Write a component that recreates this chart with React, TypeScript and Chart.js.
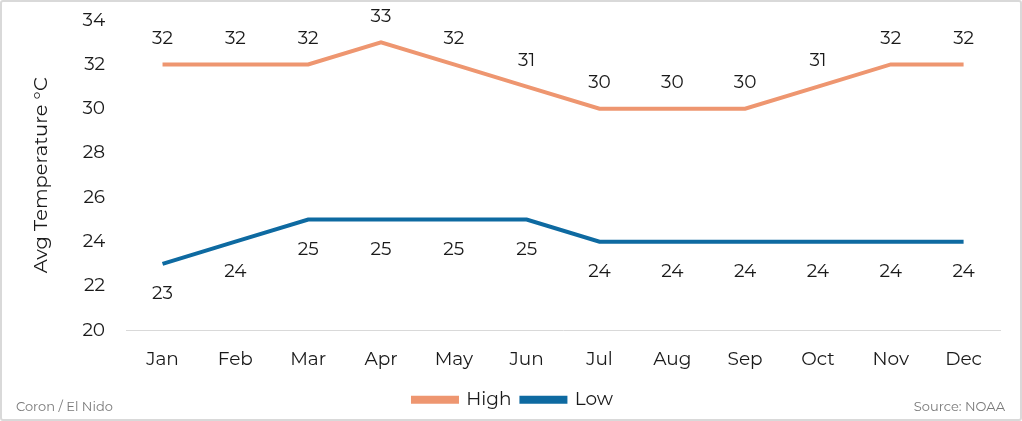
import React, { useEffect, useRef } from "react";
import { Chart, registerables } from "chart.js";
Chart.register(...registerables);

const months = ["Jan", "Feb", "Mar", "Apr", "May", "Jun", "Jul", "Aug", "Sep", "Oct", "Nov", "Dec"];
const highTemps = [32, 32, 32, 33, 32, 31, 30, 30, 30, 31, 32, 32];
const lowTemps = [23, 24, 25, 25, 25, 25, 24, 24, 24, 24, 24, 24];
const yTitle = "Avg Temperature °C";
const leftNote = "Coron / El Nido";
const sourceNote = "Source: NOAA";

const FONT = "Montserrat, 'Open Sans', 'Noto Sans', sans-serif";
const HIGH_COLOR = "#EE9670";
const LOW_COLOR = "#0E6AA1";
const FS = 18.5;

const labelPlugin = {
  id: "pointLabels",
  afterDatasetsDraw(chart: any) {
    const ctx = chart.ctx;
    ctx.save();
    ctx.font = `${FS}px ${FONT}`;
    ctx.fillStyle = "#1a1a1a";
    ctx.textAlign = "center";
    ctx.textBaseline = "middle";
    chart.data.datasets.forEach((ds: any, i: number) => {
      const meta = chart.getDatasetMeta(i);
      meta.data.forEach((pt: any, j: number) => {
        const off = i === 0 ? -26 : 30;
        ctx.fillText(String(ds.data[j]), pt.x, pt.y + off);
      });
    });
    ctx.restore();
  },
};

export default function App() {
  const ref = useRef<HTMLCanvasElement>(null);
  useEffect(() => {
    document.body.style.margin = "0";
    const chart = new Chart(ref.current!, {
      type: "line",
      data: {
        labels: months,
        datasets: [
          { label: "High", data: highTemps, borderColor: HIGH_COLOR, backgroundColor: HIGH_COLOR, borderWidth: 4, pointRadius: 0, tension: 0 },
          { label: "Low", data: lowTemps, borderColor: LOW_COLOR, backgroundColor: LOW_COLOR, borderWidth: 4, pointRadius: 0, tension: 0 },
        ],
      },
      options: {
        responsive: false,
        animation: false,
        layout: { padding: { top: -21, right: 20, left: 24, bottom: 0 } },
        plugins: {
          tooltip: { enabled: false },
          legend: {
            position: "bottom",
            labels: {
              boxWidth: 44,
              boxHeight: 4,
              color: "#1a1a1a",
              font: { family: FONT, size: FS },
              padding: 10,
            },
          },
        },
        scales: {
          x: {
            offset: true,
            grid: { display: false },
            border: { display: true, color: "#d9d9d9", width: 1 },
            ticks: { color: "#1a1a1a", font: { family: FONT, size: FS }, padding: 10 },
          },
          y: {
            min: 20,
            max: 34,
            grid: { display: false },
            border: { display: false },
            ticks: { stepSize: 2, color: "#1a1a1a", font: { family: FONT, size: FS }, padding: 13 },
            title: { display: true, text: yTitle, color: "#1a1a1a", font: { family: FONT, size: 19.5 }, padding: { bottom: 16 } },
          },
        },
      },
      plugins: [labelPlugin],
    });
    return () => chart.destroy();
  }, []);
  return (
    <div style={{ position: "relative", width: 1022, height: 421, boxSizing: "border-box", border: "2px solid #d9d9d9", borderRadius: 3, fontFamily: FONT }}>
      <canvas ref={ref} width={1018} height={423} style={{ display: "block", marginTop: -6 }} />
      <div style={{ position: "absolute", left: 14, top: 396, fontSize: 13, color: "#7a7a7a" }}>{leftNote}</div>
      <div style={{ position: "absolute", right: 15, top: 396, fontSize: 13, color: "#7a7a7a" }}>{sourceNote}</div>
    </div>
  );
}
